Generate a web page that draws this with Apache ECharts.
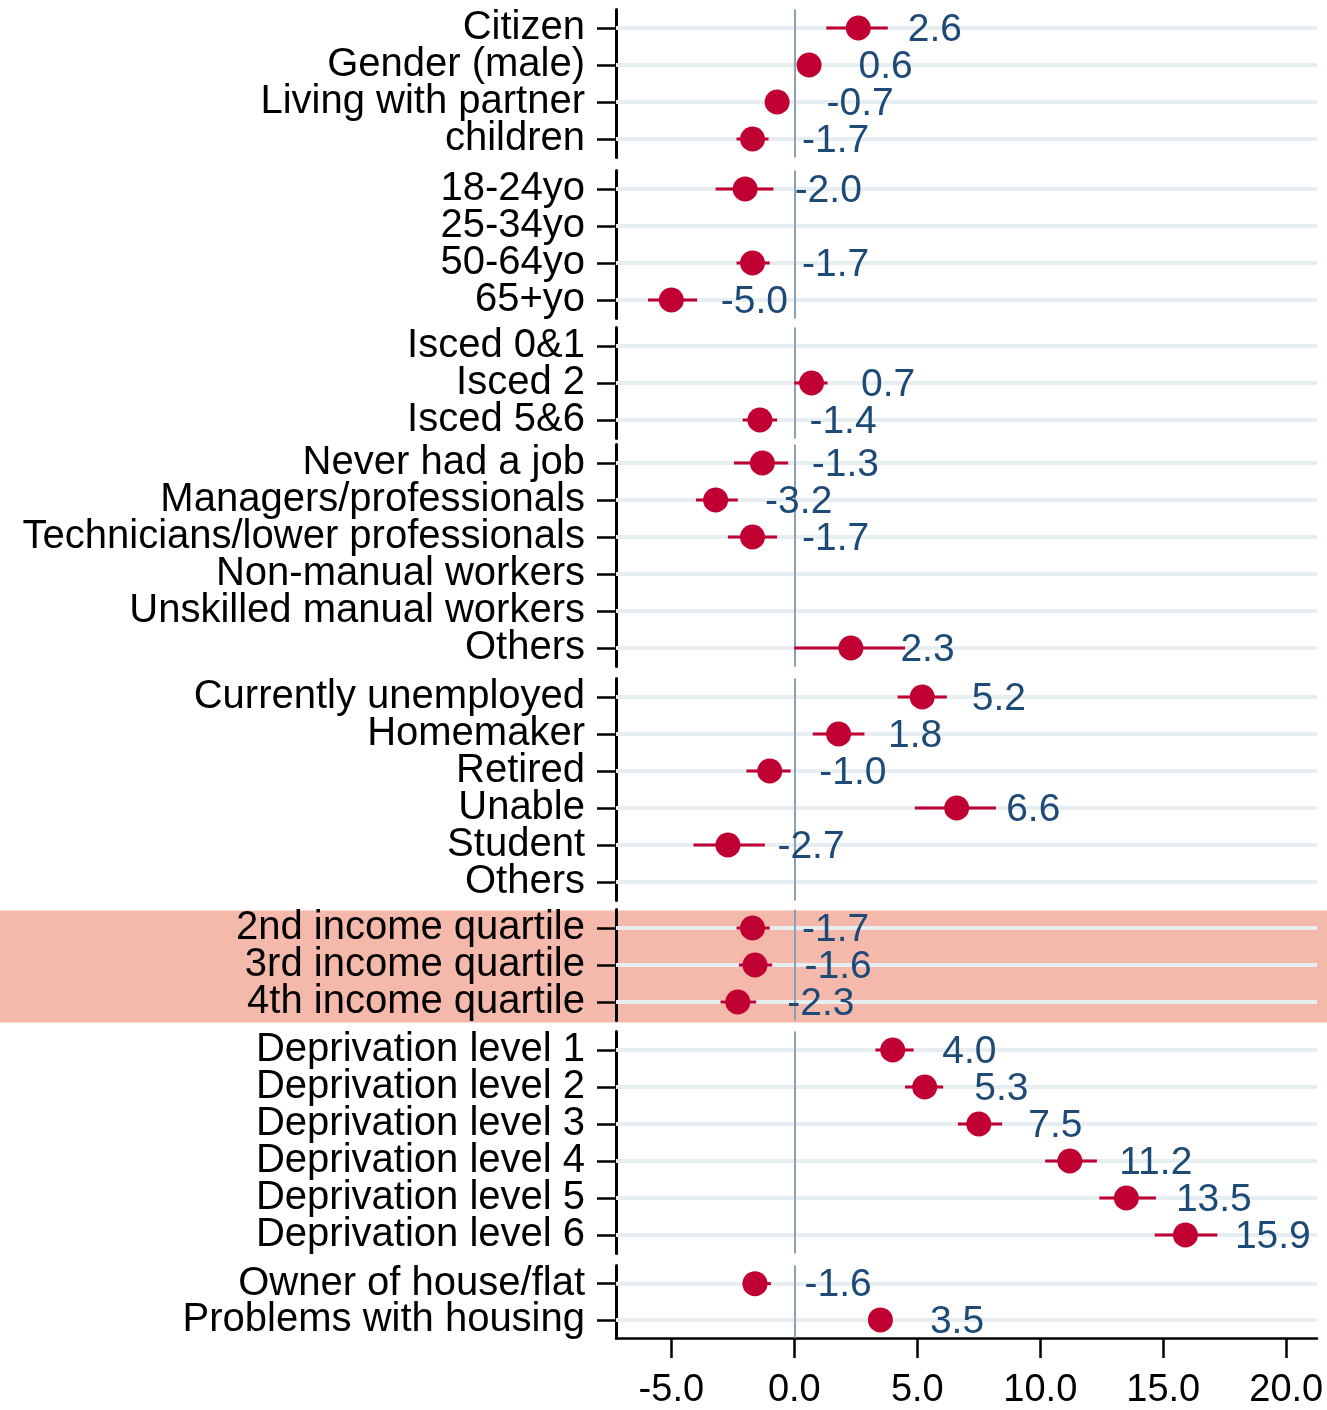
<!DOCTYPE html>
<html>
<head>
<meta charset="utf-8">
<script src="https://cdn.jsdelivr.net/npm/echarts@6/dist/echarts.min.js"></script>
<style>
html,body{margin:0;padding:0;background:#fff;}
#chart{width:1327px;height:1410px;}
</style>
</head>
<body>
<div id="chart"></div>
<script>
// ---------- DATA ----------
const categories = [
  'Citizen','Gender (male)','Living with partner','children',
  '18-24yo','25-34yo','50-64yo','65+yo',
  'Isced 0&1','Isced 2','Isced 5&6',
  'Never had a job','Managers/professionals','Technicians/lower professionals','Non-manual workers','Unskilled manual workers','Others',
  'Currently unemployed','Homemaker','Retired','Unable','Student','Others',
  '2nd income quartile','3rd income quartile','4th income quartile',
  'Deprivation level 1','Deprivation level 2','Deprivation level 3','Deprivation level 4','Deprivation level 5','Deprivation level 6',
  'Owner of house/flat','Problems with housing'
];
const groupSizes = [4, 4, 3, 6, 6, 3, 6, 2];
const estimates = [
  2.6, 0.6, -0.7, -1.7,
  -2.0, null, -1.7, -5.0,
  null, 0.7, -1.4,
  -1.3, -3.2, -1.7, null, null, 2.3,
  5.2, 1.8, -1.0, 6.6, -2.7, null,
  -1.7, -1.6, -2.3,
  4.0, 5.3, 7.5, 11.2, 13.5, 15.9,
  -1.6, 3.5
];
const ciLow = [
  1.3, 0.25, -1.05, -2.35,
  -3.2, null, -2.35, -5.95,
  null, 0.0, -2.1,
  -2.45, -4.0, -2.7, null, null, 0.0,
  4.2, 0.75, -1.95, 4.9, -4.1, null,
  -2.35, -2.25, -3.0,
  3.3, 4.5, 6.65, 10.2, 12.4, 14.65,
  -2.1, 3.1
];
const ciHigh = [
  3.8, 0.95, -0.35, -1.05,
  -0.85, null, -1.0, -3.95,
  null, 1.35, -0.7,
  -0.25, -2.3, -0.7, null, null, 4.5,
  6.2, 2.85, -0.15, 8.2, -1.2, null,
  -1.0, -0.9, -1.55,
  4.85, 6.05, 8.45, 12.3, 14.7, 17.2,
  -0.95, 3.9
];
const xTicks = [-5, 0, 5, 10, 15, 20];
const highlightGroup = 5;

// ---------- LAYOUT ----------
const xMin = -7.25, xMax = 21.25;
const gridTops = [9.5, 170.5, 327.5, 444.5, 678.5, 909.5, 1031.5, 1265.5];
const rowH = 37;
const FONT = 'Arial, "Liberation Sans", sans-serif';
const RED = '#c00032';

const grids = [], xAxes = [], yAxes = [], series = [];
let start = 0;
groupSizes.forEach((n, g) => {
  const cats = categories.slice(start, start + n);
  const last = g === groupSizes.length - 1;
  grids.push({ left: 616, width: 1327 - 616 - 10, top: gridTops[g], height: n * rowH });
  xAxes.push({
    type: 'value', gridIndex: g, min: xMin, max: xMax, show: last,
    splitLine: { show: false },
    axisLine: { show: true, onZero: false, lineStyle: { color: '#000', width: 2.5 } },
    axisTick: { show: true, length: 20, lineStyle: { color: '#000', width: 2.5 }, customValues: xTicks },
    axisLabel: { show: true, fontSize: 38, fontFamily: FONT, color: '#000', margin: 34,
      customValues: xTicks, formatter: v => v.toFixed(1) }
  });
  yAxes.push({
    type: 'category', gridIndex: g, data: cats, inverse: true,
    axisLine: { show: true, onZero: false, lineStyle: { color: '#000', width: 3 } },
    axisTick: { show: true, alignWithLabel: true, interval: 0, length: 19, lineStyle: { color: '#000', width: 2.5 } },
    axisLabel: { interval: 0, fontSize: 40, fontFamily: FONT, color: '#000', margin: 31,
      padding: [4, 0, 0, 0] },
    splitLine: { show: false }
  });
  // gridlines
  series.push({
    type: 'custom', xAxisIndex: g, yAxisIndex: g, silent: true, z: 1,
    data: cats.map((c, i) => [0, i]),
    encode: { x: 0, y: 1 },
    renderItem: (params, api) => {
      const p = api.coord([0, api.value(1)]);
      const cs = params.coordSys;
      return { type: 'line', shape: { x1: cs.x, y1: p[1], x2: cs.x + cs.width, y2: p[1] },
        style: { stroke: '#e6eef1', lineWidth: 4 } };
    },
    markLine: {
      silent: true, symbol: 'none', z: 2,
      label: { show: false },
      lineStyle: { color: '#8aa0b5', width: 2, type: 'solid' },
      data: [{ xAxis: 0 }]
    }
  });
  // error bars
  const ci = [];
  for (let i = 0; i < n; i++) {
    const k = start + i;
    if (ciLow[k] !== null) ci.push([ciLow[k], ciHigh[k], i]);
  }
  series.push({
    type: 'custom', xAxisIndex: g, yAxisIndex: g, silent: true, z: 3,
    data: ci, encode: { x: [0, 1], y: 2 },
    renderItem: (params, api) => {
      const a = api.coord([api.value(0), api.value(2)]);
      const b = api.coord([api.value(1), api.value(2)]);
      return { type: 'line', shape: { x1: a[0], y1: a[1], x2: b[0], y2: b[1] },
        style: { stroke: RED, lineWidth: 3 } };
    }
  });
  // points
  const pts = [];
  for (let i = 0; i < n; i++) {
    const k = start + i;
    if (estimates[k] !== null) pts.push([estimates[k], i]);
  }
  series.push({
    type: 'scatter', xAxisIndex: g, yAxisIndex: g, z: 4,
    symbol: 'circle', symbolSize: 25,
    itemStyle: { color: RED, opacity: 1 },
    data: pts,
    label: { show: true, position: 'right', distance: 37, fontSize: 39, fontFamily: FONT,
      color: '#1d4a76', offset: [0, 2], formatter: p => p.value[0].toFixed(1) }
  });
  start += n;
});

const chart = echarts.init(document.getElementById('chart'), null, { renderer: 'canvas' });
chart.setOption({
  backgroundColor: '#fff',
  animation: false,
  graphic: [{
    type: 'rect', z: -10, silent: true,
    shape: { x: 0, y: gridTops[highlightGroup] + 1, width: 1327, height: groupSizes[highlightGroup] * rowH + 1 },
    style: { fill: '#f5b9ab' }
  }],
  grid: grids,
  xAxis: xAxes,
  yAxis: yAxes,
  series: series
});
</script>
</body>
</html>
